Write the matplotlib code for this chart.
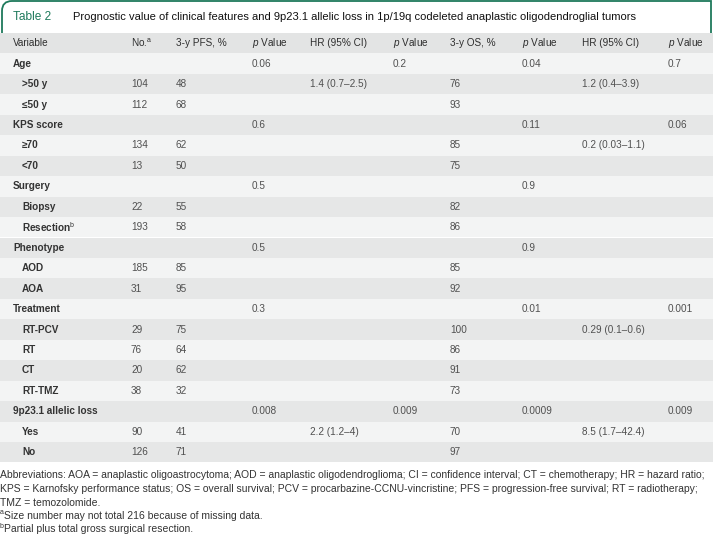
import matplotlib.pyplot as plt
from matplotlib.path import Path
from matplotlib.patches import PathPatch, Rectangle

plt.rcParams["font.family"] = ["Liberation Sans", "DejaVu Sans"]
plt.rcParams["mathtext.fontset"] = "custom"
plt.rcParams["mathtext.rm"] = "Liberation Sans"
plt.rcParams["mathtext.it"] = "Liberation Sans:italic"
NARROW = ["Liberation Sans Narrow", "Liberation Sans", "DejaVu Sans"]

# ---------------------------------------------------------------------
#  Table content
# ---------------------------------------------------------------------
title_tag = "Table 2"
title_text = ("Prognostic value of clinical features and 9p23.1 allelic loss "
              "in 1p/19q codeleted anaplastic oligodendroglial tumors")

headers = ["Variable", "No.$^{\\rm a}$", "3-y PFS, %", "$\\it{p}$ Value", "HR (95% CI)",
           "$\\it{p}$ Value", "3-y OS, %", "$\\it{p}$ Value", "HR (95% CI)", "$\\it{p}$ Value"]

variables = ["Age", ">50 y", "≤50 y", "KPS score", "≥70", "<70", "Surgery", "Biopsy",
             "Resection$^{\\rm b}$", "Phenotype", "AOD", "AOA", "Treatment", "RT-PCV", "RT",
             "CT", "RT-TMZ", "9p23.1 allelic loss", "Yes", "No"]
is_group = [True, False, False, True, False, False, True, False, False, True, False, False,
            True, False, False, False, False, True, False, False]
n_pat = ["", "104", "112", "", "134", "13", "", "22", "193", "", "185", "31", "",
         "29", "76", "20", "38", "", "90", "126"]
pfs_3y = ["", "48", "68", "", "62", "50", "", "55", "58", "", "85", "95", "",
          "75", "64", "62", "32", "", "41", "71"]
p_pfs = ["0.06", "", "", "0.6", "", "", "0.5", "", "", "0.5", "", "", "0.3",
         "", "", "", "", "0.008", "", ""]
hr_pfs = ["", "1.4 (0.7–2.5)", "", "", "", "", "", "", "", "", "", "", "",
          "", "", "", "", "", "2.2 (1.2–4)", ""]
p_hr_pfs = ["0.2", "", "", "", "", "", "", "", "", "", "", "", "",
            "", "", "", "", "0.009", "", ""]
os_3y = ["", "76", "93", "", "85", "75", "", "82", "86", "", "85", "92", "",
         "100", "86", "91", "73", "", "70", "97"]
p_os = ["0.04", "", "", "0.11", "", "", "0.9", "", "", "0.9", "", "", "0.01",
        "", "", "", "", "0.0009", "", ""]
hr_os = ["", "1.2 (0.4–3.9)", "", "", "0.2 (0.03–1.1)", "", "", "", "", "", "", "", "",
         "0.29 (0.1–0.6)", "", "", "", "", "8.5 (1.7–42.4)", ""]
p_hr_os = ["0.7", "", "", "0.06", "", "", "", "", "", "", "", "", "0.001",
           "", "", "", "", "0.009", "", ""]

foot_marks = ["", "", "", "a", "b"]
footnotes = [
    "Abbreviations: AOA = anaplastic oligoastrocytoma; AOD = anaplastic oligodendroglioma; "
    "CI = confidence interval; CT = chemotherapy; HR = hazard ratio;",
    "KPS = Karnofsky performance status; OS = overall survival; PCV = procarbazine-CCNU-vincristine; "
    "PFS = progression-free survival; RT = radiotherapy;",
    "TMZ = temozolomide.",
    "Size number may not total 216 because of missing data.",
    "Partial plus total gross surgical resection.",
]

# ---------------------------------------------------------------------
#  Layout (pixel coordinates)
# ---------------------------------------------------------------------
W, H = 713, 538
col_x = [13, 131, 176, 252, 310, 393, 450, 522, 582, 668]
header_top, row_h = 33, 20.45
green = "#1f7a5c"
dark_row, light_row, head_bg = "#e6e7e7", "#f3f4f4", "#e3e4e4"
txt_col, num_col = "#2e2e2e", "#505050"
fs = 7.2

fig = plt.figure(figsize=(W / 100, H / 100), dpi=100)
ax = fig.add_axes([0, 0, 1, 1])
ax.set_xlim(0, W)
ax.set_ylim(H, 0)
ax.axis("off")

# title box with rounded top-left corner
r = 10
verts = [(2, header_top), (2, 1 + r), (2, 1), (2 + r, 1), (711, 1), (711, header_top)]
codes = [Path.MOVETO, Path.LINETO, Path.CURVE3, Path.CURVE3, Path.LINETO, Path.LINETO]
ax.add_patch(PathPatch(Path(verts, codes), facecolor="white", edgecolor=green, lw=1.3))
ax.text(13, 17, title_tag, color=green, fontsize=8.6, va="center", family=NARROW)
ax.text(73, 17, title_text, color="#111111", fontsize=8.0, va="center", family=NARROW)

# header row
ax.add_patch(Rectangle((0, header_top), W, row_h, facecolor=head_bg, edgecolor="none"))
for x, h in zip(col_x, headers):
    ax.text(x, header_top + row_h / 2, h, fontsize=fs, va="center", color=txt_col)

# body rows
columns = [n_pat, pfs_3y, p_pfs, hr_pfs, p_hr_pfs, os_3y, p_os, hr_os, p_hr_os]
for i, var in enumerate(variables):
    top = header_top + row_h * (i + 1)
    yc = top + row_h / 2
    bg = light_row if i % 2 == 0 else dark_row
    ax.add_patch(Rectangle((0, top), W, row_h, facecolor=bg, edgecolor="none"))
    ax.text(13 if is_group[i] else 22, yc, var, fontsize=fs, va="center",
            color="#333333", fontweight="semibold")
    for x, col in zip(col_x[1:], columns):
        if col[i]:
            ax.text(x, yc, col[i], fontsize=fs, va="center", color=num_col)

# footnotes
foot_y = [475, 489, 503, 516, 529]
for y, mark, line in zip(foot_y, foot_marks, footnotes):
    x0 = 0
    if mark:
        ax.text(0, y - 3, mark, fontsize=5, va="center", color="#333333", family=NARROW)
        x0 = 4
    ax.text(x0, y, line, fontsize=7.45, va="center", color="#333333", family=NARROW)

fig.savefig("out.png", dpi=100, facecolor="white")
